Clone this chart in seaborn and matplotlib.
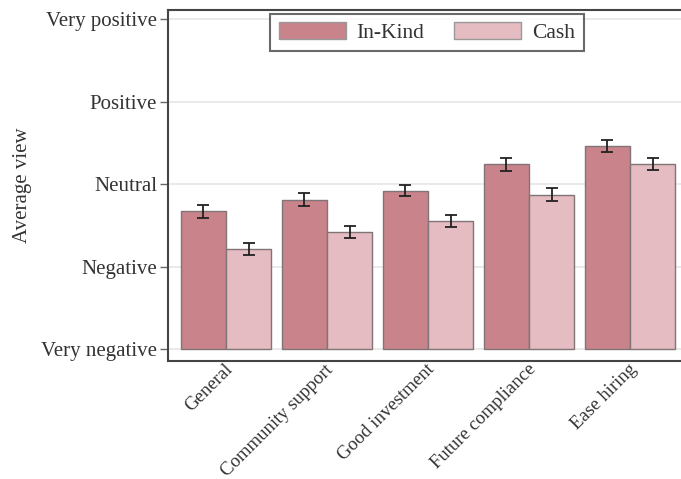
import matplotlib
matplotlib.use("Agg")
import matplotlib.pyplot as plt
from matplotlib.container import BarContainer
from matplotlib.transforms import ScaledTranslation
import seaborn as sns
import pandas as pd

# Survey outcomes and average views (1 = Very negative ... 5 = Very positive)
categories = ["General", "Community support", "Good investment", "Future compliance", "Ease hiring"]
in_kind = [2.67, 2.81, 2.92, 3.24, 3.46]
cash = [2.21, 2.42, 2.55, 2.87, 3.24]
in_kind_se = [0.08, 0.08, 0.07, 0.08, 0.07]
cash_se = [0.07, 0.07, 0.07, 0.08, 0.07]
tick_labels = ["Very negative", "Negative", "Neutral", "Positive", "Very positive"]
groups = ["In-Kind", "Cash"]

df = pd.DataFrame({
    "category": categories * 2,
    "group": [groups[0]] * len(categories) + [groups[1]] * len(categories),
    "value": in_kind + cash,
    "se": in_kind_se + cash_se,
})

sns.set_theme(style="white")
plt.rcParams["font.family"] = ["Liberation Serif", "DejaVu Serif"]
text_color = "#333333"

fig = plt.figure(figsize=(6.81, 4.79), dpi=100)
ax = fig.add_axes([168 / 681, (479 - 361) / 479, 520 / 681, 351 / 479])

palette = {"In-Kind": "#c9838b", "Cash": "#e5bcc1"}
sns.barplot(data=df, x="category", y="value", hue="group", order=categories,
            hue_order=groups, palette=palette, width=0.9, errorbar=None,
            edgecolor="#807476", linewidth=1.0, saturation=1, ax=ax, zorder=2)

bar_containers = [c for c in ax.containers if isinstance(c, BarContainer)]

# Bars grow from the bottom of the scale (Very negative = 1)
for cont in bar_containers:
    for p in cont.patches:
        top = p.get_y() + p.get_height()
        p.set_y(1)
        p.set_height(top - 1)

# Error bars at the centre of each drawn bar
for cont, grp in zip(bar_containers, groups):
    sub = df[df["group"] == grp].set_index("category").loc[categories]
    xs = [p.get_x() + p.get_width() / 2 for p in cont.patches]
    ax.errorbar(xs, sub["value"], yerr=sub["se"], fmt="none", ecolor="#222222",
                elinewidth=1.3, capsize=4.5, capthick=1.3, zorder=3)

ax.set_ylim(0.855, 5.11)
ax.set_xlim(-0.574, 4.574)
ax.set_yticks([1, 2, 3, 4, 5])
ax.set_yticklabels(tick_labels, fontsize=15, color=text_color)
ax.yaxis.grid(True, color="#e6e6e6", linewidth=1.2, zorder=0)
ax.set_axisbelow(True)
ax.tick_params(axis="y", which="major", left=True, length=6, width=1, color="#666666", pad=2)
ax.tick_params(axis="x", bottom=False, pad=7)
ax.set_xticks(range(len(categories)))
ax.set_xticklabels(categories, rotation=45, ha="right", va="center",
                   rotation_mode="anchor", fontsize=13.5, color=text_color)
# nudge the slanted labels up and slightly right, close under the axis
shift = ScaledTranslation(4 / 100, 12 / 100, fig.dpi_scale_trans)
for lab in ax.get_xticklabels():
    lab.set_transform(lab.get_transform() + shift)
ax.set_xlabel("")
ax.set_ylabel("Average view", fontsize=15, color=text_color)
ax.yaxis.set_label_coords(-0.262, 0.50)

for side in ["left", "bottom", "top", "right"]:
    ax.spines[side].set_visible(True)
    ax.spines[side].set_color("#444444")
    ax.spines[side].set_linewidth(1.5)

leg = ax.legend(loc="upper center", bbox_to_anchor=(0.498, 0.99), ncol=2,
                frameon=True, fancybox=False, fontsize=15.5, handlelength=3.1,
                handleheight=0.8, columnspacing=1.4, borderpad=0.4,
                handletextpad=0.5, borderaxespad=0, labelcolor=text_color)
leg.get_frame().set_edgecolor("#444444")
leg.get_frame().set_linewidth(1.5)
for h in leg.legend_handles:
    h.set_edgecolor("#999999")

fig.savefig("out.png", dpi=100)
